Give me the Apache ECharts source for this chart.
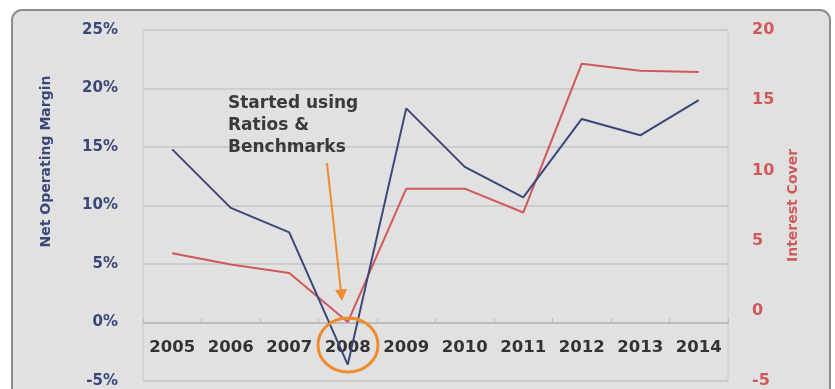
<!DOCTYPE html>
<html>
<head>
<meta charset="utf-8">
<title>Net Operating Margin vs Interest Cover</title>
<script src="https://cdn.jsdelivr.net/npm/echarts@6/dist/echarts.min.js"></script>
<style>
  html,body{margin:0;padding:0;background:#fff;}
  #chart{width:835px;height:389px;}
</style>
</head>
<body>
<div id="chart"></div>
<script>
// data
var years = ['2005','2006','2007','2008','2009','2010','2011','2012','2013','2014'];
var margin = [14.8, 9.8, 7.7, -3.6, 18.3, 13.3, 10.7, 17.4, 16.0, 19.0];   // %
var cover = [4.1, 3.3, 2.7, -0.8, 8.7, 8.7, 7.0, 17.6, 17.1, 17.0];
var note = ['Started using', 'Ratios &', 'Benchmarks'];

var blue = '#3b4679', red = '#d1585a', orange = '#f08a2c';
var font = '"DejaVu Sans", sans-serif';

// plot box, the x axis sits on the 0% line of the left axis
var gridTop = 30, gridBottom = 8, H = 389;
var plotH = H - gridTop - gridBottom;
var zeroOffset = -plotH * 5 / 30;

var chart = echarts.init(document.getElementById('chart'));
chart.setOption({
  backgroundColor: '#fff',
  animation: false,
  graphic: [
    // panel box
    {type:'rect', z:-10, shape:{x:12, y:10, width:818, height:400, r:10},
     style:{fill:'#e1e1e1', stroke:'#8c8c8c', lineWidth:2}},
    // annotation text
    {type:'text', left:228, top:93, z:10,
     style:{text:note.join('\n'), font:'bold 17px ' + font, fill:'#3a3a3a', lineHeight:22}},
    // arrow
    {type:'line', z:10, shape:{x1:327, y1:163, x2:341, y2:292},
     style:{stroke:orange, lineWidth:2}},
    {type:'polygon', z:10, shape:{points:[[335,290],[347,289],[342,301]]},
     style:{fill:orange}},
    // circle round 2008
    {type:'ellipse', z:10, shape:{cx:348, cy:345, rx:30, ry:27},
     style:{fill:'none', stroke:orange, lineWidth:3}}
  ],
  grid: {left:143, right:107, top:gridTop, bottom:gridBottom, outerBoundsMode:'none',
         show:true, borderColor:'#c8c8c8', borderWidth:1},
  xAxis: {
    type:'category', data:years, boundaryGap:true, position:'bottom', offset:zeroOffset,
    axisLine:{onZero:false, lineStyle:{color:'#b8b8b8', width:1.5}},
    axisTick:{show:true, inside:true, length:4, lineStyle:{color:'#b8b8b8'}},
    axisLabel:{interval:0, hideOverlap:false, color:'#333', fontFamily:font, fontWeight:'bold',
               fontSize:16.5, margin:17},
    splitLine:{show:false}
  },
  yAxis: [
    {type:'value', min:-5, max:25, interval:5, name:'Net Operating Margin',
     nameLocation:'middle', nameGap:90, nameRotate:90,
     nameTextStyle:{color:blue, fontFamily:font, fontWeight:'bold', fontSize:14, padding:[0,0,0,88]},
     axisLine:{show:false}, axisTick:{show:false},
     axisLabel:{color:blue, fontFamily:font, fontWeight:'bold', fontSize:15, margin:25, formatter:'{value}%'},
     splitLine:{lineStyle:{color:'#c6c6c6', width:1.5}}},
    {type:'value', min:-5, max:20, interval:5, name:'Interest Cover',
     nameLocation:'middle', nameGap:58, nameRotate:90,
     nameTextStyle:{color:red, fontFamily:font, fontWeight:'bold', fontSize:14},
     axisLine:{show:false}, axisTick:{show:false},
     axisLabel:{color:red, fontFamily:font, fontWeight:'bold', fontSize:16, margin:24},
     splitLine:{show:false}}
  ],
  series: [
    {type:'line', name:'Net Operating Margin', data:margin, yAxisIndex:0,
     symbol:'none', lineStyle:{color:blue, width:2}, z:3},
    {type:'line', name:'Interest Cover', data:cover, yAxisIndex:1,
     symbol:'none', lineStyle:{color:red, width:2}, z:2}
  ]
});
</script>
</body>
</html>
